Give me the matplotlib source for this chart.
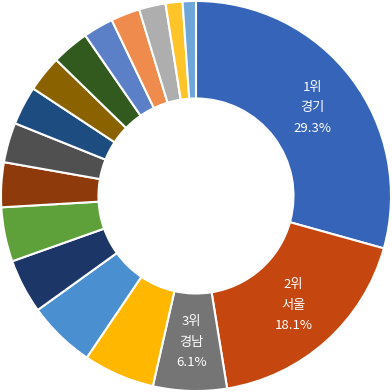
import matplotlib
matplotlib.use("Agg")
import matplotlib.pyplot as plt
import numpy as np

plt.rcParams['font.family'] = ['Noto Sans CJK KR', 'DejaVu Sans']

regions = ["경기", "서울", "경남", "부산", "인천", "경북", "대구", "충남", "전남",
           "전북", "충북", "강원", "대전", "광주", "울산", "제주", "세종"]
shares = [29.3, 18.1, 6.1, 5.9, 5.6, 4.5, 4.5, 3.7, 3.3,
          3.2, 3.0, 3.1, 2.5, 2.4, 2.2, 1.4, 1.1]
colors = ["#3564B8", "#C5460F", "#757575", "#FFB700", "#4A8FD0", "#1C3668",
          "#5EA03A", "#8E3A0A", "#505050", "#1D4D80", "#8A6200", "#325A1E",
          "#5B80C8", "#EF8B4C", "#AEAEAE", "#FFC42A", "#6EA6DA"]
n_labeled = 3

fig = plt.figure(figsize=(3.92, 3.92), dpi=100)
ax = fig.add_axes([0, 0, 1, 1])

wedges, _ = ax.pie(shares, colors=colors, startangle=90, counterclock=False,
                   radius=1.0,
                   wedgeprops=dict(width=0.5, edgecolor="white", linewidth=1.5))

for i in range(n_labeled):
    w = wedges[i]
    ang = np.deg2rad((w.theta1 + w.theta2) / 2)
    r = 0.75
    x, y = r * np.cos(ang), r * np.sin(ang)
    ax.text(x, y, f"{i+1}위\n{regions[i]}\n{shares[i]}%", color="white",
            ha="center", va="center", fontsize=9.5, linespacing=1.75)

ax.set_xlim(-1.005, 1.005)
ax.set_ylim(-1.005, 1.005)
ax.set_aspect("equal")
ax.axis("off")

fig.savefig("out.png", dpi=100, facecolor="white")
